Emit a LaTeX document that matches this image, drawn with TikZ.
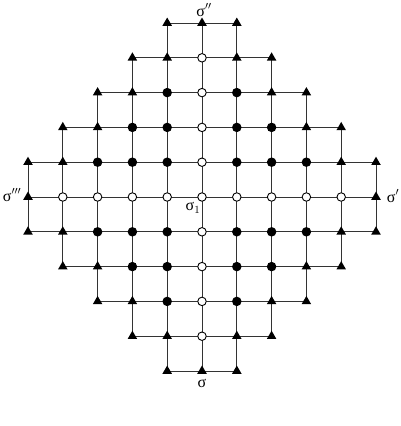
\documentclass[tikz,border=0pt]{standalone}
\usepackage{fontspec}
\setmainfont{Liberation Serif}
\usetikzlibrary{shapes.geometric}
\begin{document}
\begin{tikzpicture}[x=1pt,y=-1pt,
  gridline/.style={draw=black!80,line width=1pt},
  tri/.style={regular polygon,regular polygon sides=3,fill=black,inner sep=0pt,minimum size=11pt},
  opendot/.style={circle,draw=black,fill=white,line width=0.9pt,inner sep=0pt,minimum size=8.5pt},
  fulldot/.style={circle,fill=black,inner sep=0pt,minimum size=9.5pt},
  lab/.style={font=\fontsize{16}{18}\selectfont,inner sep=0pt}]
\useasboundingbox (0,0) rectangle (400,426);
% grid coordinates
\foreach \i in {0,...,10}{
  \foreach \j in {0,...,10}{
    \pgfmathtruncatemacro\s{abs(\i-5)+abs(\j-5)}
    \ifnum\s<7
      \coordinate (c\i-\j) at ({202+34.8*(\i-5)},{197+34.8*(\j-5)});
    \fi
  }
}
% rows and columns
\foreach \j in {0,...,10}{
  \pgfmathtruncatemacro\w{min(5,6-abs(\j-5))}
  \pgfmathtruncatemacro\a{5-\w}
  \pgfmathtruncatemacro\b{5+\w}
  \draw[gridline] (c\a-\j) -- (c\b-\j);
  \draw[gridline] (c\j-\a) -- (c\j-\b);
}
% markers
\foreach \i in {0,...,10}{
  \foreach \j in {0,...,10}{
    \pgfmathtruncatemacro\s{abs(\i-5)+abs(\j-5)}
    \ifnum\s<7
      \ifnum\s>4
        \node[tri] (m\i-\j) at (c\i-\j) {};
      \else
        \ifnum\i=5
          \node[opendot] (m\i-\j) at (c\i-\j) {};
        \else
          \ifnum\j=5
            \node[opendot] (m\i-\j) at (c\i-\j) {};
          \else
            \node[fulldot] (m\i-\j) at (c\i-\j) {};
          \fi
        \fi
      \fi
    \fi
  }
}
% labels
\node[lab] (ltop) at (204,10) {σ$''$};
\node[lab] (lright) at (393,196) {σ$'$};
\node[lab] (lleft) at (12,195) {σ$'''$};
\node[lab] (lbot) at (202,383) {σ};
\node[lab] (lcen) at (193,208) {σ$_1$};
\end{tikzpicture}
\end{document}
